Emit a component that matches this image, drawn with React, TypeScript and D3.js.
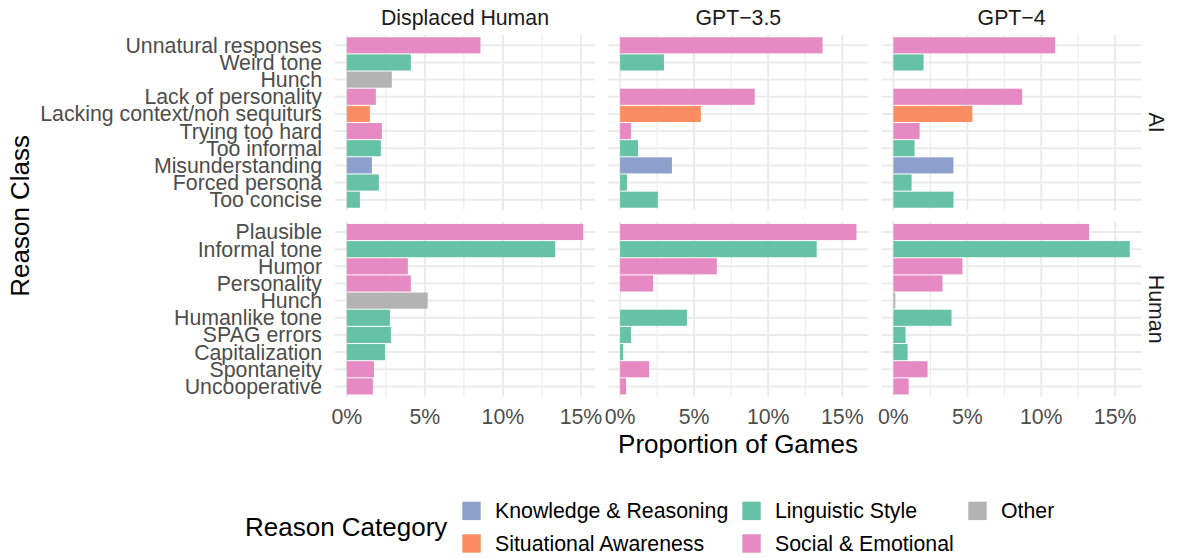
import * as d3 from "d3";

const columns = ["Displaced Human", "GPT\u22123.5", "GPT\u22124"];
const rows = ["AI", "Human"];

const aiReasons = [
  "Unnatural responses",
  "Weird tone",
  "Hunch",
  "Lack of personality",
  "Lacking context/non sequiturs",
  "Trying too hard",
  "Too informal",
  "Misunderstanding",
  "Forced persona",
  "Too concise",
];
const aiCategories = [
  "Social & Emotional",
  "Linguistic Style",
  "Other",
  "Social & Emotional",
  "Situational Awareness",
  "Social & Emotional",
  "Linguistic Style",
  "Knowledge & Reasoning",
  "Linguistic Style",
  "Linguistic Style",
];
const humanReasons = [
  "Plausible",
  "Informal tone",
  "Humor",
  "Personality",
  "Hunch",
  "Humanlike tone",
  "SPAG errors",
  "Capitalization",
  "Spontaneity",
  "Uncooperative",
];
const humanCategories = [
  "Social & Emotional",
  "Linguistic Style",
  "Social & Emotional",
  "Social & Emotional",
  "Other",
  "Linguistic Style",
  "Linguistic Style",
  "Linguistic Style",
  "Social & Emotional",
  "Social & Emotional",
];

// proportion of games (%), one array per column, same order as the reasons
const aiDisplaced = [8.56, 4.1, 2.88, 1.86, 1.48, 2.25, 2.18, 1.61, 2.05, 0.84];
const aiGpt35 = [13.67, 2.96, 0, 9.09, 5.45, 0.73, 1.21, 3.5, 0.46, 2.55];
const aiGpt4 = [10.94, 2.04, 0, 8.71, 5.34, 1.77, 1.43, 4.06, 1.23, 4.06];
const humanDisplaced = [15.14, 13.35, 3.91, 4.1, 5.18, 2.76, 2.82, 2.44, 1.74, 1.67];
const humanGpt35 = [15.96, 13.27, 6.53, 2.22, 0, 4.51, 0.73, 0.2, 1.95, 0.4];
const humanGpt4 = [13.23, 15.99, 4.67, 3.32, 0.13, 3.93, 0.82, 0.96, 2.31, 1.03];

const legendItems = [
  "Knowledge & Reasoning",
  "Linguistic Style",
  "Other",
  "Situational Awareness",
  "Social & Emotional",
];
const xTicks = [0, 5, 10, 15];
const xMinor = [2.5, 7.5, 12.5];

const colour = d3
  .scaleOrdinal<string, string>()
  .domain(legendItems)
  .range(["#8DA0CB", "#66C2A5", "#B3B3B3", "#FC8D62", "#E78AC3"]);

const FONT = "'Liberation Sans', Arial, Helvetica, sans-serif";
const W = 1178;
const H = 558;
const panelW = 260;
const panelH = 175;
const panelX0 = 335;
const panelGapX = 13.3;
const panelY = [35, 221.7];
const labelSize = 21.3;

const values = [
  [aiDisplaced, aiGpt35, aiGpt4],
  [humanDisplaced, humanGpt35, humanGpt4],
];
const reasons = [aiReasons, humanReasons];
const cats = [aiCategories, humanCategories];

function App() {
  const xScales = columns.map((_, c) => {
    const max = d3.max([...values[0][c], ...values[1][c]]) as number;
    const left = panelX0 + c * (panelW + panelGapX);
    return d3
      .scaleLinear()
      .domain([-0.05 * max, 1.05 * max])
      .range([left, left + panelW]);
  });
  const yScales = rows.map((_, r) =>
    d3
      .scalePoint<string>()
      .domain(reasons[r].map((d, i) => i + ""))
      .range([panelY[r], panelY[r] + panelH])
      .padding(0.6),
  );
  const fmt = (d: number) => `${d}%`;

  // legend layout, byrow with 3 columns
  const legendColX = [462.3, 742.3, 968.3];
  const legendRowY = [501.7, 534.3];
  const keySize = 18.4;

  return (
    <svg
      width={W}
      height={H}
      style={{ position: "absolute", left: 0, top: 0, background: "#fff" }}
      fontFamily={FONT}
    >
      {rows.map((row, r) =>
        columns.map((col, c) => {
          const x = xScales[c];
          const y = yScales[r];
          const [x0, x1] = x.range();
          const bh = y.step() * 0.94;
          return (
            <g key={`${r}-${c}`}>
              {/* grid */}
              {xMinor.map((t) => (
                <line
                  key={"m" + t}
                  x1={x(t)}
                  x2={x(t)}
                  y1={panelY[r]}
                  y2={panelY[r] + panelH}
                  stroke="#EBEBEB"
                  strokeWidth={1.1}
                />
              ))}
              {xTicks.map((t) => (
                <line
                  key={"M" + t}
                  x1={x(t)}
                  x2={x(t)}
                  y1={panelY[r]}
                  y2={panelY[r] + panelH}
                  stroke="#EBEBEB"
                  strokeWidth={2}
                />
              ))}
              {reasons[r].map((_, i) => (
                <line
                  key={"h" + i}
                  x1={x0}
                  x2={x1}
                  y1={y(i + "")}
                  y2={y(i + "")}
                  stroke="#EBEBEB"
                  strokeWidth={2}
                />
              ))}
              {/* bars */}
              {values[r][c].map((v, i) =>
                v > 0 ? (
                  <rect
                    key={"b" + i}
                    x={x(0)}
                    width={x(v) - x(0)}
                    y={(y(i + "") as number) - bh / 2}
                    height={bh}
                    fill={colour(cats[r][i])}
                  />
                ) : null,
              )}
              {/* top strip */}
              {r === 0 && (
                <text
                  x={(x0 + x1) / 2}
                  y={25}
                  textAnchor="middle"
                  fontSize={labelSize}
                  fill="#1A1A1A"
                >
                  {col}
                </text>
              )}
              {/* x tick labels */}
              {r === 1 &&
                xTicks.map((t) => (
                  <text
                    key={"xt" + t}
                    x={x(t)}
                    y={424}
                    textAnchor="middle"
                    fontSize={labelSize}
                    fill="#4D4D4D"
                  >
                    {fmt(t)}
                  </text>
                ))}
            </g>
          );
        }),
      )}

      {/* y tick labels */}
      {rows.map((_, r) =>
        reasons[r].map((lab, i) => (
          <text
            key={`yl-${r}-${i}`}
            x={322}
            y={(yScales[r](i + "") as number) + 7.5}
            textAnchor="end"
            fontSize={labelSize}
            fill="#4D4D4D"
          >
            {lab}
          </text>
        )),
      )}

      {/* right strips */}
      {rows.map((row, r) => (
        <text
          key={"rs" + r}
          transform={`translate(1149,${panelY[r] + panelH / 2}) rotate(90)`}
          textAnchor="middle"
          fontSize={labelSize}
          fill="#1A1A1A"
        >
          {row}
        </text>
      ))}

      {/* axis titles */}
      <text x={738} y={453} textAnchor="middle" fontSize={26} fill="#000">
        Proportion of Games
      </text>
      <text
        transform={`translate(29,${(panelY[0] + panelY[1] + panelH) / 2}) rotate(-90)`}
        textAnchor="middle"
        fontSize={26}
        fill="#000"
      >
        Reason Class
      </text>

      {/* legend */}
      <text x={245} y={536} fontSize={26} fill="#000">
        Reason Category
      </text>
      {legendItems.map((item, i) => {
        const col = i % 3;
        const row = Math.floor(i / 3);
        const kx = legendColX[col];
        const ky = legendRowY[row];
        return (
          <g key={item}>
            <rect x={kx} y={ky} width={keySize} height={keySize} fill={colour(item)} />
            <text x={kx + 32.7} y={ky + keySize / 2 + 7.5} fontSize={labelSize} fill="#000">
              {item}
            </text>
          </g>
        );
      })}
    </svg>
  );
}

export default App;
